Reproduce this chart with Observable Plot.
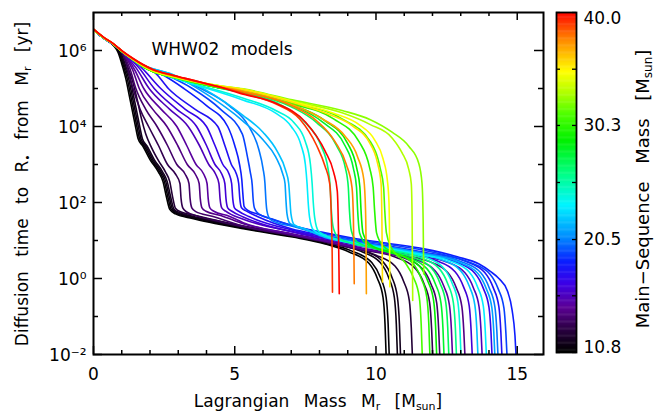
<!DOCTYPE html>
<html><head><meta charset="utf-8">
<script src="https://cdn.jsdelivr.net/npm/d3@7"></script>
<script src="https://cdn.jsdelivr.net/npm/@observablehq/plot@0.6"></script>
<style>
body{margin:0;background:#fff;}
#wrap{position:relative;width:657px;height:414px;overflow:hidden;background:#fff;}
#wrap svg{position:absolute;top:0;}
</style></head><body><div id="wrap"></div>
<script>
// Main-sequence masses of the models (Msun)
const masses = [10.8,11.0,11.3,11.6,12.3,13.0,13.6,14.2,14.8,15.5,16.2,16.9,17.6,18.4,19.2,20.2,21.2,22.0,23.2,24.2,26.0,27.0,28.0,29.0,30.0,31.0,32.3,33.0,34.7,35.5,37.0,37.8,39.0,40.0];

// Profiles: [Lagrangian mass Mr, log10 diffusion time (yr)]
const tracks = [
[[0,6.55],[0.35,6.33],[0.7,6.14],[0.87,5.95],[1.04,5.55],[1.15,5.24],[1.27,4.8],[1.39,4.36],[1.5,3.95],[1.58,3.68],[1.75,3.48],[2.0,3.13],[2.3,2.8],[2.46,2.55],[2.58,2.15],[2.7,1.82],[2.9,1.7],[3.5,1.58],[4.1,1.48],[5.3,1.31],[7.05,1.09],[8.2,0.91],[9.05,0.7],[9.75,0.4],[10.05,0.0],[10.25,-0.5],[10.32,-1.2],[10.36,-2.05]],
[[0,6.55],[0.35,6.33],[0.7,6.145],[0.9,5.95],[1.08,5.55],[1.2,5.24],[1.32,4.8],[1.44,4.36],[1.55,3.95],[1.63,3.68],[1.8,3.48],[2.05,3.13],[2.35,2.8],[2.51,2.55],[2.63,2.15],[2.75,1.82],[2.95,1.71],[3.5,1.6],[4.1,1.5],[5.3,1.33],[7.05,1.11],[8.2,0.93],[9.15,0.72],[9.85,0.42],[10.16,0.02],[10.36,-0.5],[10.43,-1.2],[10.47,-2.05]],
[[0,6.55],[0.35,6.33],[0.7,6.15],[0.93,5.95],[1.12,5.55],[1.25,5.24],[1.37,4.8],[1.49,4.36],[1.6,3.95],[1.68,3.68],[1.85,3.48],[2.1,3.13],[2.4,2.8],[2.56,2.55],[2.68,2.15],[2.8,1.82],[3.0,1.72],[3.5,1.62],[4.1,1.52],[5.3,1.35],[7.05,1.13],[8.2,0.96],[9.45,0.72],[10.15,0.42],[10.45,0.02],[10.65,-0.5],[10.72,-1.2],[10.76,-2.05]],
[[0,6.55],[0.35,6.33],[0.7,6.155],[0.96,5.95],[1.16,5.55],[1.3,5.24],[1.42,4.8],[1.54,4.36],[1.65,3.95],[1.73,3.68],[1.9,3.48],[2.15,3.13],[2.45,2.8],[2.61,2.55],[2.73,2.15],[2.85,1.82],[3.05,1.73],[3.5,1.64],[4.1,1.54],[5.3,1.37],[7.05,1.15],[8.2,0.98],[9.55,0.74],[10.25,0.44],[10.56,0.04],[10.76,-0.5],[10.83,-1.2],[10.87,-2.05]],
[[0,6.55],[0.35,6.33],[0.7,6.16],[1.0,5.95],[1.22,5.55],[1.38,5.2],[1.55,4.7],[1.7,4.2],[1.85,3.8],[2.05,3.45],[2.3,3.1],[2.55,2.8],[2.7,2.55],[2.8,2.15],[2.9,1.85],[3.1,1.75],[3.6,1.66],[4.1,1.57],[5.3,1.38],[7.05,1.16],[8.2,0.99],[9.2,0.82],[9.98,0.62],[10.68,0.32],[10.98,-0.08],[11.18,-0.58],[11.25,-1.3],[11.29,-2.05]],
[[0,6.55],[0.35,6.33],[0.7,6.16],[1.05,5.9],[1.22,5.5],[1.4,5.0],[1.65,4.45],[1.95,4.0],[2.3,3.5],[2.62,3.0],[2.9,2.75],[3.06,2.5],[3.1,2.1],[3.16,1.86],[3.3,1.75],[3.7,1.64],[4.3,1.53],[5.3,1.36],[7.0,1.13],[8.2,0.96],[9.2,0.79],[10.7,0.56],[11.4,0.26],[11.7,-0.14],[11.9,-0.64],[11.97,-1.34],[12.01,-2.05]],
[[0,6.55],[0.35,6.33],[0.7,6.16],[1.05,5.92],[1.3,5.5],[1.5,5.0],[1.85,4.45],[2.25,4.0],[2.62,3.5],[2.95,3.0],[3.24,2.75],[3.38,2.5],[3.42,2.1],[3.48,1.86],[3.62,1.76],[4.2,1.64],[5.3,1.38],[7.0,1.14],[8.2,0.97],[9.2,0.8],[10.95,0.55],[11.65,0.25],[11.95,-0.15],[12.15,-0.65],[12.22,-1.35],[12.26,-2.05]],
[[0,6.55],[0.35,6.33],[0.7,6.16],[1.05,5.93],[1.38,5.5],[1.62,5.0],[2.1,4.45],[2.6,4.0],[2.98,3.5],[3.32,3.0],[3.6,2.75],[3.74,2.5],[3.78,2.1],[3.84,1.86],[3.98,1.77],[4.5,1.66],[5.3,1.44],[7.0,1.18],[8.2,1.01],[9.2,0.85],[10.5,0.66],[11.84,0.46],[12.54,0.16],[12.84,-0.24],[13.04,-0.74],[13.11,-1.4],[13.15,-2.05]],
[[0,6.55],[0.35,6.33],[0.7,6.16],[1.05,5.94],[1.45,5.5],[1.78,5.0],[2.4,4.45],[2.95,4.0],[3.3,3.5],[3.63,3.0],[3.9,2.75],[4.02,2.5],[4.06,2.1],[4.12,1.86],[4.26,1.77],[4.8,1.64],[5.3,1.47],[7.0,1.17],[8.2,0.99],[9.2,0.83],[10.5,0.64],[11.4,0.5],[12.1,0.2],[12.4,-0.2],[12.6,-0.7],[12.67,-1.35],[12.71,-2.05]],
[[0,6.55],[0.35,6.33],[0.7,6.16],[1.05,5.94],[1.5,5.55],[1.97,5.0],[2.7,4.45],[3.35,4.0],[3.75,3.5],[4.08,3.0],[4.32,2.75],[4.44,2.5],[4.48,2.1],[4.54,1.86],[4.68,1.77],[5.3,1.56],[7.0,1.24],[8.2,1.06],[9.2,0.91],[10.5,0.74],[11.7,0.57],[12.45,0.45],[13.15,0.15],[13.45,-0.25],[13.65,-0.75],[13.72,-1.4],[13.76,-2.05]],
[[0,6.55],[0.35,6.33],[0.7,6.16],[1.05,5.95],[1.6,5.55],[2.15,5.0],[2.95,4.45],[3.65,4.0],[4.0,3.5],[4.3,3.0],[4.54,2.75],[4.65,2.5],[4.69,2.1],[4.75,1.86],[4.9,1.77],[5.3,1.62],[7.0,1.23],[8.2,1.04],[9.2,0.89],[10.5,0.72],[12.1,0.48],[12.8,0.18],[13.1,-0.22],[13.3,-0.72],[13.37,-1.4],[13.41,-2.05]],
[[0,6.55],[0.35,6.33],[0.7,6.16],[1.05,5.95],[1.7,5.55],[2.38,5.0],[3.25,4.45],[4.0,4.0],[4.3,3.5],[4.58,3.0],[4.8,2.75],[4.89,2.5],[4.93,2.1],[4.99,1.86],[5.14,1.77],[5.5,1.63],[7.0,1.28],[8.2,1.09],[9.2,0.95],[10.5,0.79],[11.7,0.63],[12.8,0.44],[13.5,0.14],[13.8,-0.26],[14.0,-0.76],[14.07,-1.4],[14.11,-2.05]],
[[0,6.55],[0.35,6.33],[0.7,6.16],[1.05,5.95],[1.75,5.58],[2.2,5.4],[2.65,5.0],[3.6,4.45],[4.4,4.0],[4.65,3.5],[4.88,3.0],[5.06,2.75],[5.14,2.5],[5.18,2.1],[5.24,1.86],[5.4,1.78],[5.8,1.63],[7.0,1.31],[8.2,1.13],[9.2,0.99],[10.5,0.85],[11.7,0.69],[13.15,0.46],[13.85,0.16],[14.15,-0.24],[14.35,-0.74],[14.42,-1.4],[14.46,-2.05]],
[[0,6.55],[0.35,6.33],[0.7,6.16],[1.05,5.95],[1.75,5.6],[2.4,5.38],[3.2,5.0],[4.0,4.55],[4.75,4.0],[5.0,3.5],[5.17,3.0],[5.25,2.6],[5.29,2.2],[5.33,1.9],[5.45,1.8],[5.8,1.7],[7.0,1.4],[8.2,1.2],[9.2,1.06],[10.57,0.91],[11.7,0.78],[12.88,0.57],[13.65,0.38],[14.06,0.18],[14.35,0.0],[14.65,-0.32],[14.82,-0.84],[14.92,-1.5],[14.96,-2.05]],
[[0,6.55],[0.35,6.33],[0.7,6.16],[1.05,5.95],[1.75,5.6],[2.5,5.38],[3.5,5.0],[4.5,4.45],[5.27,3.8],[5.45,3.2],[5.55,2.8],[5.62,2.45],[5.65,2.1],[5.7,1.85],[5.85,1.7],[6.3,1.57],[7.0,1.4],[8.2,1.18],[9.2,1.03],[10.5,0.89],[11.7,0.74],[12.9,0.53],[13.33,0.42],[14.03,0.12],[14.33,-0.28],[14.53,-0.78],[14.6,-1.45],[14.64,-2.05]],
[[0,6.55],[0.35,6.33],[0.7,6.16],[1.05,5.95],[1.75,5.6],[2.6,5.37],[3.8,5.0],[4.8,4.55],[5.5,4.0],[5.85,3.4],[6.0,2.9],[6.07,2.5],[6.1,2.1],[6.14,1.78],[6.25,1.56],[6.5,1.47],[7.0,1.38],[8.2,1.13],[9.2,0.98],[10.5,0.83],[11.7,0.67],[13.0,0.45],[13.71,0.15],[14.01,-0.25],[14.21,-0.75],[14.28,-1.4],[14.32,-2.05]],
[[0,6.55],[0.35,6.33],[0.7,6.17],[1.05,5.96],[1.75,5.62],[2.8,5.36],[4.0,4.85],[5.28,4.15],[6.0,3.65],[6.45,3.2],[6.7,2.75],[6.78,2.5],[6.81,2.1],[6.85,1.7],[6.95,1.45],[7.3,1.34],[8.2,1.11],[9.2,0.96],[10.5,0.81],[11.7,0.65],[12.9,0.44],[13.6,0.14],[13.9,-0.26],[14.1,-0.76],[14.17,-1.4],[14.21,-2.05]],
[[0,6.55],[0.35,6.33],[0.7,6.17],[1.05,5.96],[1.75,5.62],[2.8,5.37],[4.0,4.95],[5.28,4.3],[6.0,3.85],[6.5,3.35],[6.8,2.85],[6.91,2.5],[6.95,2.1],[6.99,1.7],[7.1,1.42],[7.5,1.3],[8.2,1.08],[9.2,0.93],[10.5,0.77],[11.7,0.61],[12.3,0.5],[13.0,0.2],[13.3,-0.2],[13.5,-0.7],[13.57,-1.35],[13.61,-2.05]],
[[0,6.55],[0.35,6.33],[0.7,6.17],[1.05,5.96],[1.75,5.57],[2.8,5.28],[3.5,5.12],[5.28,4.7],[6.45,4.35],[7.0,4.0],[7.35,3.5],[7.5,3.0],[7.56,2.5],[7.6,2.0],[7.65,1.6],[7.78,1.28],[8.2,1.12],[9.2,0.94],[10.5,0.78],[11.7,0.62],[12.6,0.47],[13.3,0.17],[13.6,-0.23],[13.8,-0.73],[13.87,-1.4],[13.91,-2.05]],
[[0,6.55],[0.35,6.33],[0.7,6.17],[1.05,5.96],[1.75,5.57],[2.8,5.29],[3.5,5.14],[5.28,4.75],[6.45,4.42],[7.1,4.1],[7.5,3.6],[7.68,3.0],[7.74,2.5],[7.78,2.0],[7.83,1.6],[7.96,1.25],[8.4,1.08],[9.2,0.91],[10.5,0.74],[11.7,0.57],[12.4,0.27],[12.7,-0.13],[12.9,-0.63],[12.97,-1.3],[13.01,-2.05]],
[[0,6.55],[0.35,6.34],[0.7,6.17],[1.05,5.95],[1.4,5.76],[1.75,5.58],[2.1,5.45],[2.8,5.3],[3.5,5.17],[4.4,5.02],[5.3,4.88],[6.8,4.5],[7.5,4.1],[8.05,3.5],[8.3,2.9],[8.38,2.4],[8.42,1.8],[8.5,1.3],[8.7,1.05],[9.2,0.92],[10.5,0.74],[11.54,0.56],[12.24,0.26],[12.54,-0.14],[12.74,-0.64],[12.81,-1.3],[12.85,-2.05]],
[[0,6.55],[0.35,6.34],[0.7,6.17],[1.05,5.95],[1.4,5.76],[1.75,5.58],[2.1,5.45],[2.8,5.3],[3.5,5.17],[4.4,5.02],[5.3,4.9],[7.0,4.52],[7.9,4.1],[8.6,3.5],[8.92,2.9],[9.02,2.4],[9.06,1.8],[9.13,1.25],[9.35,0.95],[10.5,0.7],[11.27,0.57],[11.97,0.27],[12.27,-0.13],[12.47,-0.63],[12.54,-1.3],[12.58,-2.05]],
[[0,6.55],[0.35,6.34],[0.7,6.17],[1.05,5.95],[1.4,5.76],[1.75,5.58],[2.1,5.45],[2.8,5.3],[3.5,5.17],[4.4,5.03],[5.3,4.92],[7.0,4.57],[8.1,4.12],[8.9,3.5],[9.2,2.9],[9.31,2.4],[9.35,1.8],[9.42,1.2],[9.65,0.92],[10.5,0.68],[11.1,0.56],[11.8,0.26],[12.1,-0.14],[12.3,-0.64],[12.37,-1.3],[12.41,-2.05]],
[[0,6.55],[0.35,6.34],[0.7,6.17],[1.05,5.95],[1.4,5.76],[1.75,5.58],[2.1,5.45],[2.8,5.3],[3.5,5.17],[4.4,5.03],[5.3,4.93],[7.0,4.58],[8.2,4.15],[9.0,3.55],[9.32,2.9],[9.43,2.4],[9.47,1.8],[9.54,1.2],[9.78,0.9],[10.84,0.62],[11.54,0.32],[11.84,-0.08],[12.04,-0.58],[12.11,-1.25],[12.15,-2.05]],
[[0,6.55],[0.35,6.34],[0.7,6.17],[1.05,5.95],[1.4,5.76],[1.75,5.58],[2.1,5.45],[2.8,5.3],[3.5,5.17],[4.4,5.03],[5.3,4.94],[7.0,4.6],[8.5,4.2],[9.4,3.6],[9.78,2.9],[9.9,2.4],[9.95,1.8],[10.02,1.2],[10.25,0.86],[10.6,0.7],[11.3,0.4],[11.6,0.0],[11.8,-0.5],[11.87,-1.2],[11.91,-2.05]],
[[0,6.55],[0.35,6.34],[0.7,6.17],[1.05,5.95],[1.4,5.76],[1.75,5.58],[2.1,5.45],[2.8,5.3],[3.5,5.17],[4.4,5.03],[5.3,4.95],[7.0,4.62],[8.8,4.2],[9.8,3.6],[10.15,2.9],[10.27,2.4],[10.31,1.8],[10.37,1.2],[10.55,0.8],[11.03,0.42],[11.33,0.02],[11.53,-0.48],[11.6,-1.2],[11.64,-2.05]],
[[0,6.55],[0.35,6.34],[0.7,6.17],[1.05,5.95],[1.4,5.76],[1.75,5.59],[2.1,5.46],[2.8,5.31],[3.5,5.19],[4.4,5.08],[5.3,4.99],[7.04,4.7],[8.8,4.42],[9.8,4.18],[10.57,3.85],[11.16,3.48],[11.51,3.04],[11.63,2.5],[11.67,1.5],[11.69,0.12]],
[[0,6.55],[0.35,6.34],[0.7,6.17],[1.05,5.95],[1.4,5.76],[1.75,5.59],[2.1,5.46],[2.8,5.31],[3.5,5.19],[4.4,5.08],[5.3,4.98],[7.04,4.67],[8.8,4.36],[9.8,4.05],[10.57,3.7],[10.92,3.31],[11.16,2.87],[11.25,2.49],[11.28,1.5],[11.3,-0.58]],
[[0,6.55],[0.35,6.34],[0.7,6.17],[1.05,5.96],[1.4,5.77],[1.75,5.6],[2.1,5.47],[2.8,5.32],[3.5,5.2],[4.4,5.08],[5.3,4.98],[7.04,4.66],[8.5,4.35],[9.4,4.05],[9.95,3.65],[10.25,3.15],[10.4,2.6],[10.46,2.0],[10.48,1.0],[10.49,-0.22]],
[[0,6.55],[0.35,6.34],[0.7,6.17],[1.05,5.96],[1.4,5.77],[1.75,5.61],[2.1,5.48],[2.8,5.33],[3.5,5.2],[4.4,5.07],[5.3,4.97],[7.04,4.64],[8.3,4.33],[9.2,4.0],[9.75,3.6],[10.05,3.05],[10.18,2.5],[10.21,1.5],[10.23,-0.09]],
[[0,6.56],[0.35,6.35],[0.7,6.18],[1.05,5.96],[1.4,5.78],[1.75,5.62],[2.1,5.49],[2.8,5.34],[3.5,5.21],[4.4,5.06],[5.3,4.93],[7.0,4.58],[8.1,4.2],[8.9,3.75],[9.35,3.2],[9.57,2.6],[9.63,1.8],[9.65,0.8],[9.66,-0.4]],
[[0,6.56],[0.35,6.35],[0.7,6.18],[1.05,5.96],[1.4,5.78],[1.75,5.62],[2.1,5.49],[2.8,5.34],[3.5,5.21],[4.4,5.05],[5.3,4.91],[7.0,4.55],[7.9,4.15],[8.55,3.6],[8.95,3.0],[9.15,2.4],[9.2,1.6],[9.22,0.6],[9.23,-0.14]],
[[0,6.56],[0.35,6.35],[0.7,6.18],[1.05,5.97],[1.4,5.79],[1.75,5.63],[2.1,5.5],[2.8,5.35],[3.5,5.22],[4.4,5.05],[5.3,4.87],[6.5,4.58],[7.3,4.2],[7.9,3.5],[8.2,2.95],[8.36,2.5],[8.42,1.6],[8.45,0.6],[8.46,-0.36]],
[[0,6.56],[0.35,6.35],[0.7,6.18],[1.05,5.97],[1.4,5.79],[1.75,5.63],[2.1,5.5],[2.8,5.35],[3.5,5.22],[4.4,5.05],[5.3,4.85],[6.5,4.6],[7.5,4.12],[8.2,3.35],[8.5,2.8],[8.63,2.3],[8.67,1.3],[8.69,0.3],[8.7,-0.4]]
];

// Axis ticks and labels
const xMajor = [0, 5, 10, 15];
const xMinor = [1, 2, 3, 4, 6, 7, 8, 9, 11, 12, 13, 14];
const yMajor = [1e-2, 1e0, 1e2, 1e4, 1e6];
const yMinor = [1e-1, 1e1, 1e3, 1e5];
const yLabels = ["10\u207B\u00B2", "10\u2070", "10\u00B2", "10\u2074", "10\u2076"];

// Colour bar (main-sequence mass) ticks and colour table stops
const cbMajor = [10.8, 20.5, 30.3, 40.0];
const cbMinor = [15.67, 25.4, 35.13];
const cbLabels = ["10.8", "20.5", "30.3", "40.0"];
const cmapMass = [10.8, 12.85, 14.6, 16.6, 18.5, 20.7, 23.4, 26.0, 28.9, 31.2, 33.0, 34.8, 37.4, 40.0];
const cmapColor = ["#000000","#2e0048","#5c0096","#3c00e6","#0a1eff","#0090ff","#00f5ff","#00ff88","#00f000","#50ff00","#b0ff00","#ffff00","#ff9000","#ff0000"];

const W = 657, H = 414;
const mL = 93, mR = 114, mT = 12, mB = 60;
const fw = W - mL - mR, fh = H - mT - mB;
const FONT = "DejaVu Sans, sans-serif";

const rows = [];
tracks.forEach((t, i) => t.forEach(([x, ly]) => rows.push({model: i, mass: masses[i], x, t: Math.pow(10, ly)})));
const yLab = yMajor.map((v, i) => ({v, s: yLabels[i]}));

const colorOpt = {type: "linear", domain: cmapMass, range: cmapColor};

const main = Plot.plot({
  width: W, height: H,
  marginLeft: mL, marginRight: mR, marginTop: mT, marginBottom: mB,
  style: {fontFamily: FONT, fontSize: "17px", color: "black", background: "white", overflow: "visible"},
  x: {domain: [0, 15.93], axis: null},
  y: {type: "log", domain: [1e-2, 1e7], axis: null},
  color: colorOpt,
  marks: [
    Plot.line(rows, {x: "x", y: "t", z: "model", stroke: "mass", strokeWidth: 1.6, curve: "monotone-x", clip: true}),
    Plot.tickX(xMajor, {x: d => d, insetTop: fh - 8, strokeWidth: 1.5}),
    Plot.tickX(xMajor, {x: d => d, insetBottom: fh - 8, strokeWidth: 1.5}),
    Plot.tickX(xMinor, {x: d => d, insetTop: fh - 4, strokeWidth: 1.5}),
    Plot.tickX(xMinor, {x: d => d, insetBottom: fh - 4, strokeWidth: 1.5}),
    Plot.tickY(yMajor, {y: d => d, insetRight: fw - 9, strokeWidth: 1.5}),
    Plot.tickY(yMajor, {y: d => d, insetLeft: fw - 9, strokeWidth: 1.5}),
    Plot.tickY(yMinor, {y: d => d, insetRight: fw - 5, strokeWidth: 1.5}),
    Plot.tickY(yMinor, {y: d => d, insetLeft: fw - 5, strokeWidth: 1.5}),
    Plot.frame({strokeWidth: 2}),
    Plot.text(xMajor, {x: d => d, text: d => String(d), frameAnchor: "bottom", lineAnchor: "top", dy: 13, fontSize: 17}),
    Plot.text(yLab, {y: "v", text: "s", frameAnchor: "left", textAnchor: "end", dx: -7, dy: 1, fontSize: 17})
  ]
});
main.style.left = "0px";
document.getElementById("wrap").appendChild(main);

const svgM = d3.select(main);
// in-plot annotation
svgM.append("text").attr("x", 222).attr("y", 55).attr("font-family", FONT).attr("font-size", 17)
  .attr("style", "word-spacing:6px").text("WHW02 models");
// x title
const xt = svgM.append("text").attr("x", (mL + W - mR) / 2).attr("y", 407).attr("text-anchor", "middle")
  .attr("font-family", FONT).attr("font-size", 17).attr("style", "word-spacing:9px");
xt.append("tspan").text("Lagrangian Mass M");
xt.append("tspan").attr("baseline-shift", "-25%").attr("font-size", 11).text("r");
xt.append("tspan").text(" [M");
xt.append("tspan").attr("baseline-shift", "-25%").attr("font-size", 11).text("sun");
xt.append("tspan").text("]");
// y title
const yt = svgM.append("text").attr("transform", "translate(28,184) rotate(-90)").attr("text-anchor", "middle")
  .attr("font-family", FONT).attr("font-size", 17).attr("style", "word-spacing:9px");
yt.append("tspan").text("Diffusion time to R");
yt.append("tspan").attr("baseline-shift", "-25%").attr("font-size", 11).text("\u2022");
yt.append("tspan").text(" from M");
yt.append("tspan").attr("baseline-shift", "-25%").attr("font-size", 11).text("r");
yt.append("tspan").text(" [yr]");

// colour bar
const cbSteps = d3.range(10.8, 40.0, 0.1);
const cbL = 548, cbW = 109;
const cb = Plot.plot({
  width: cbW, height: H,
  marginLeft: 8, marginRight: cbW - 28, marginTop: 12, marginBottom: 62,
  style: {fontFamily: FONT, fontSize: "17px", color: "black", background: "transparent", overflow: "visible"},
  x: {domain: [0, 1], axis: null},
  y: {domain: [10.8, 40.0], axis: null},
  color: colorOpt,
  marks: [
    Plot.rect(cbSteps, {x1: 0, x2: 1, y1: d => d, y2: d => d + 0.14, fill: d => d, clip: true}),
    Plot.tickY(cbMajor.concat(cbMinor), {y: d => d, insetRight: 20 - 4, strokeWidth: 1.3}),
    Plot.tickY(cbMajor.concat(cbMinor), {y: d => d, insetLeft: 20 - 4, strokeWidth: 1.3}),
    Plot.frame({strokeWidth: 1.8}),
    Plot.text(cbMajor.slice(1, 3), {x: 1, y: d => d, text: (d, i) => cbLabels[i + 1], dx: 7, textAnchor: "start", fontSize: 17}),
    Plot.text([cbMajor[3]], {x: 1, y: d => d, text: () => cbLabels[3], dx: 7, dy: 6, textAnchor: "start", fontSize: 17}),
    Plot.text([cbMajor[0]], {x: 1, y: d => d, text: () => cbLabels[0], dx: 7, dy: -5, textAnchor: "start", fontSize: 17})
  ]
});
cb.style.left = cbL + "px";
document.getElementById("wrap").appendChild(cb);
const ct = d3.select(cb).append("text").attr("transform", "translate(101,189) rotate(-90)").attr("text-anchor", "middle")
  .attr("font-family", FONT).attr("font-size", 18).attr("style", "word-spacing:12px");
ct.append("tspan").text("Main\u2212Sequence Mass [M");
ct.append("tspan").attr("baseline-shift", "-25%").attr("font-size", 12).text("sun");
ct.append("tspan").text("]");
</script>
</body></html>
